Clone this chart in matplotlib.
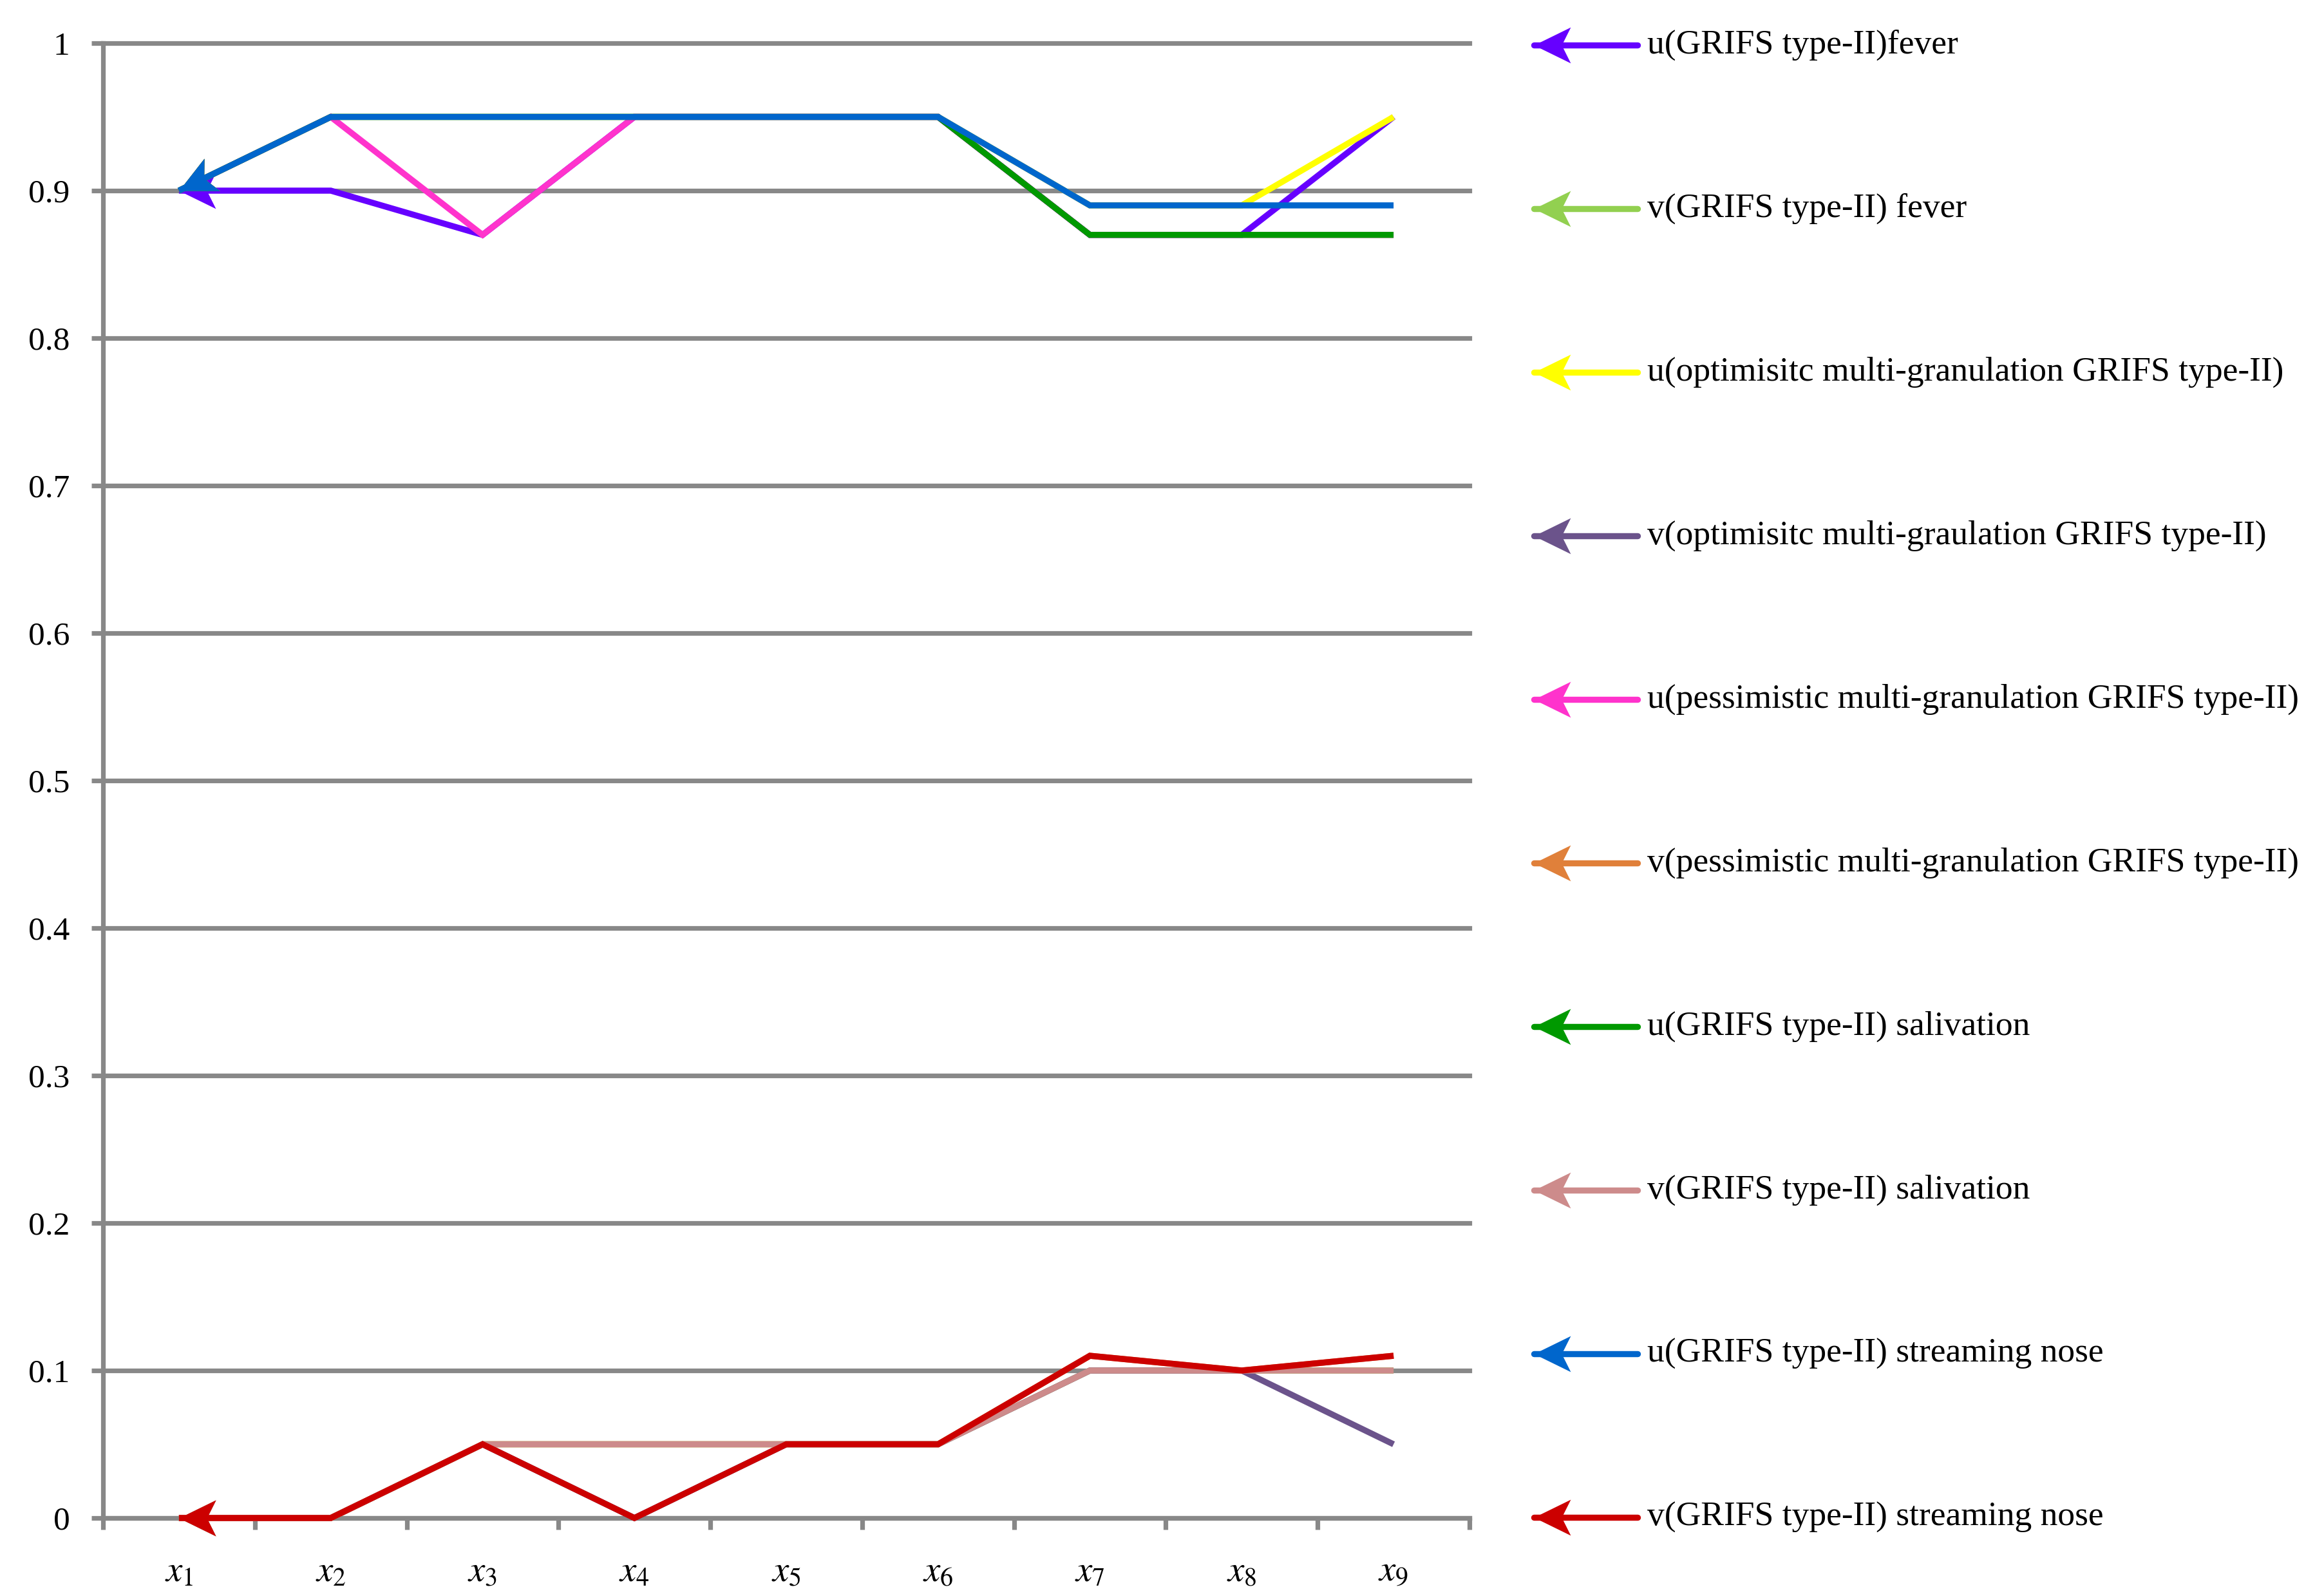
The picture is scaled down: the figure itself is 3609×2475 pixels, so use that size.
import numpy as np
from matplotlib import pyplot as plt
from matplotlib.lines import Line2D
from matplotlib.markers import MarkerStyle
from matplotlib.path import Path
from matplotlib.transforms import Affine2D

plt.rcParams['font.family'] = ['Liberation Serif', 'DejaVu Serif']
plt.rcParams['mathtext.fontset'] = 'stix'

# data
xlabels = ['$x_1$', '$x_2$', '$x_3$', '$x_4$', '$x_5$', '$x_6$', '$x_7$', '$x_8$', '$x_9$']
ytick_labels = ['0', '0.1', '0.2', '0.3', '0.4', '0.5', '0.6', '0.7', '0.8', '0.9', '1']

names = ['u(GRIFS type-II)fever',
         'v(GRIFS type-II) fever',
         'u(optimisitc multi-granulation GRIFS type-II)',
         'v(optimisitc multi-graulation GRIFS type-II)',
         'u(pessimistic multi-granulation GRIFS type-II)',
         'v(pessimistic multi-granulation GRIFS type-II)',
         'u(GRIFS type-II) salivation',
         'v(GRIFS type-II) salivation',
         'u(GRIFS type-II) streaming nose',
         'v(GRIFS type-II) streaming nose']

u_fever = [0.90, 0.90, 0.87, 0.95, 0.95, 0.95, 0.87, 0.87, 0.95]
v_fever = [0.00, 0.00, 0.05, 0.05, 0.05, 0.05, 0.10, 0.10, 0.10]
u_opt = [0.90, 0.95, 0.95, 0.95, 0.95, 0.95, 0.89, 0.89, 0.95]
v_opt = [0.00, 0.00, 0.05, 0.00, 0.05, 0.05, 0.10, 0.10, 0.05]
u_pes = [0.90, 0.95, 0.87, 0.95, 0.95, 0.95, 0.87, 0.87, 0.87]
v_pes = [0.00, 0.00, 0.05, 0.05, 0.05, 0.05, 0.11, 0.10, 0.11]
u_sal = [0.90, 0.95, 0.95, 0.95, 0.95, 0.95, 0.87, 0.87, 0.87]
v_sal = [0.00, 0.00, 0.05, 0.05, 0.05, 0.05, 0.10, 0.10, 0.10]
u_nose = [0.90, 0.95, 0.95, 0.95, 0.95, 0.95, 0.89, 0.89, 0.89]
v_nose = [0.00, 0.00, 0.05, 0.00, 0.05, 0.05, 0.11, 0.10, 0.11]

series = [u_fever, v_fever, u_opt, v_opt, u_pes, v_pes, u_sal, v_sal, u_nose, v_nose]
colors = ['#6600FF', '#92D050', '#FFFF00', '#6B538B', '#FF33CC',
          '#E0803A', '#009900', '#CD8B8B', '#0066CC', '#CC0000']

W, H = 3609, 2475
grey = '#888888'
lw_grid = 5.2
lw_line = 6.8
ms_head = 82

# stealth arrow head, tip at the origin, body along +x
head_path = Path([(0, 0), (49, 24), (37, 0), (49, -24), (0, 0)],
                 [Path.MOVETO, Path.LINETO, Path.LINETO, Path.LINETO, Path.CLOSEPOLY])


def head_marker(angle):
    return MarkerStyle(head_path, transform=Affine2D().rotate_deg(angle))


fig = plt.figure(figsize=(W / 100, H / 100), dpi=100)
ax = fig.add_axes([160 / W, 1 - 2357 / H, (2282 - 160) / W, (2357 - 67) / H])

x = np.arange(1, len(xlabels) + 1)
ax.set_xlim(0.5, len(x) + 0.5)
ax.set_ylim(0, 1)

for i, (vals, c) in enumerate(zip(series, colors)):
    p0 = ax.transData.transform((x[0], vals[0]))
    p1 = ax.transData.transform((x[1], vals[1]))
    ang = np.degrees(np.arctan2(p1[1] - p0[1], p1[0] - p0[0]))
    ax.plot(x, vals, color=c, lw=lw_line, zorder=3 + 0.1 * i, clip_on=False,
            solid_capstyle='butt', solid_joinstyle='miter',
            marker=head_marker(ang), markevery=[0], markersize=ms_head,
            markeredgewidth=0, markerfacecolor=c)

ax.set_yticks(np.linspace(0, 1, len(ytick_labels)), labels=ytick_labels)
ax.set_xticks(np.arange(0.5, len(x) + 0.6, 1), labels=[''] * (len(x) + 1))
ax.set_xticks(x, labels=xlabels, minor=True)

ax.yaxis.grid(True, color=grey, lw=lw_grid)
for gl in ax.get_ygridlines():
    gl.set_clip_on(False)
ax.set_axisbelow(True)

for s in ['top', 'right']:
    ax.spines[s].set_visible(False)
for s in ['left', 'bottom']:
    ax.spines[s].set_color(grey)
    ax.spines[s].set_linewidth(lw_grid)

ax.tick_params(axis='y', length=13, width=lw_grid, color=grey, pad=24, labelsize=37)
ax.tick_params(axis='x', which='major', length=13, width=lw_grid, color=grey)
ax.tick_params(axis='x', which='minor', length=0, pad=42, labelsize=41)

# legend drawn by hand on the right
for i, (name, c) in enumerate(zip(names, colors)):
    yf = 1 - (70 + 254 * i) / H
    fig.add_artist(Line2D([2382 / W, 2543 / W], [yf, yf], color=c, lw=lw_line,
                          solid_capstyle='round', transform=fig.transFigure,
                          marker=head_marker(0), markevery=[0], markersize=ms_head,
                          markeredgewidth=0, markerfacecolor=c))
    fig.text(2558 / W, yf, name, ha='left', va='center', fontsize=38.5)

fig.savefig('out.png', dpi=100)
